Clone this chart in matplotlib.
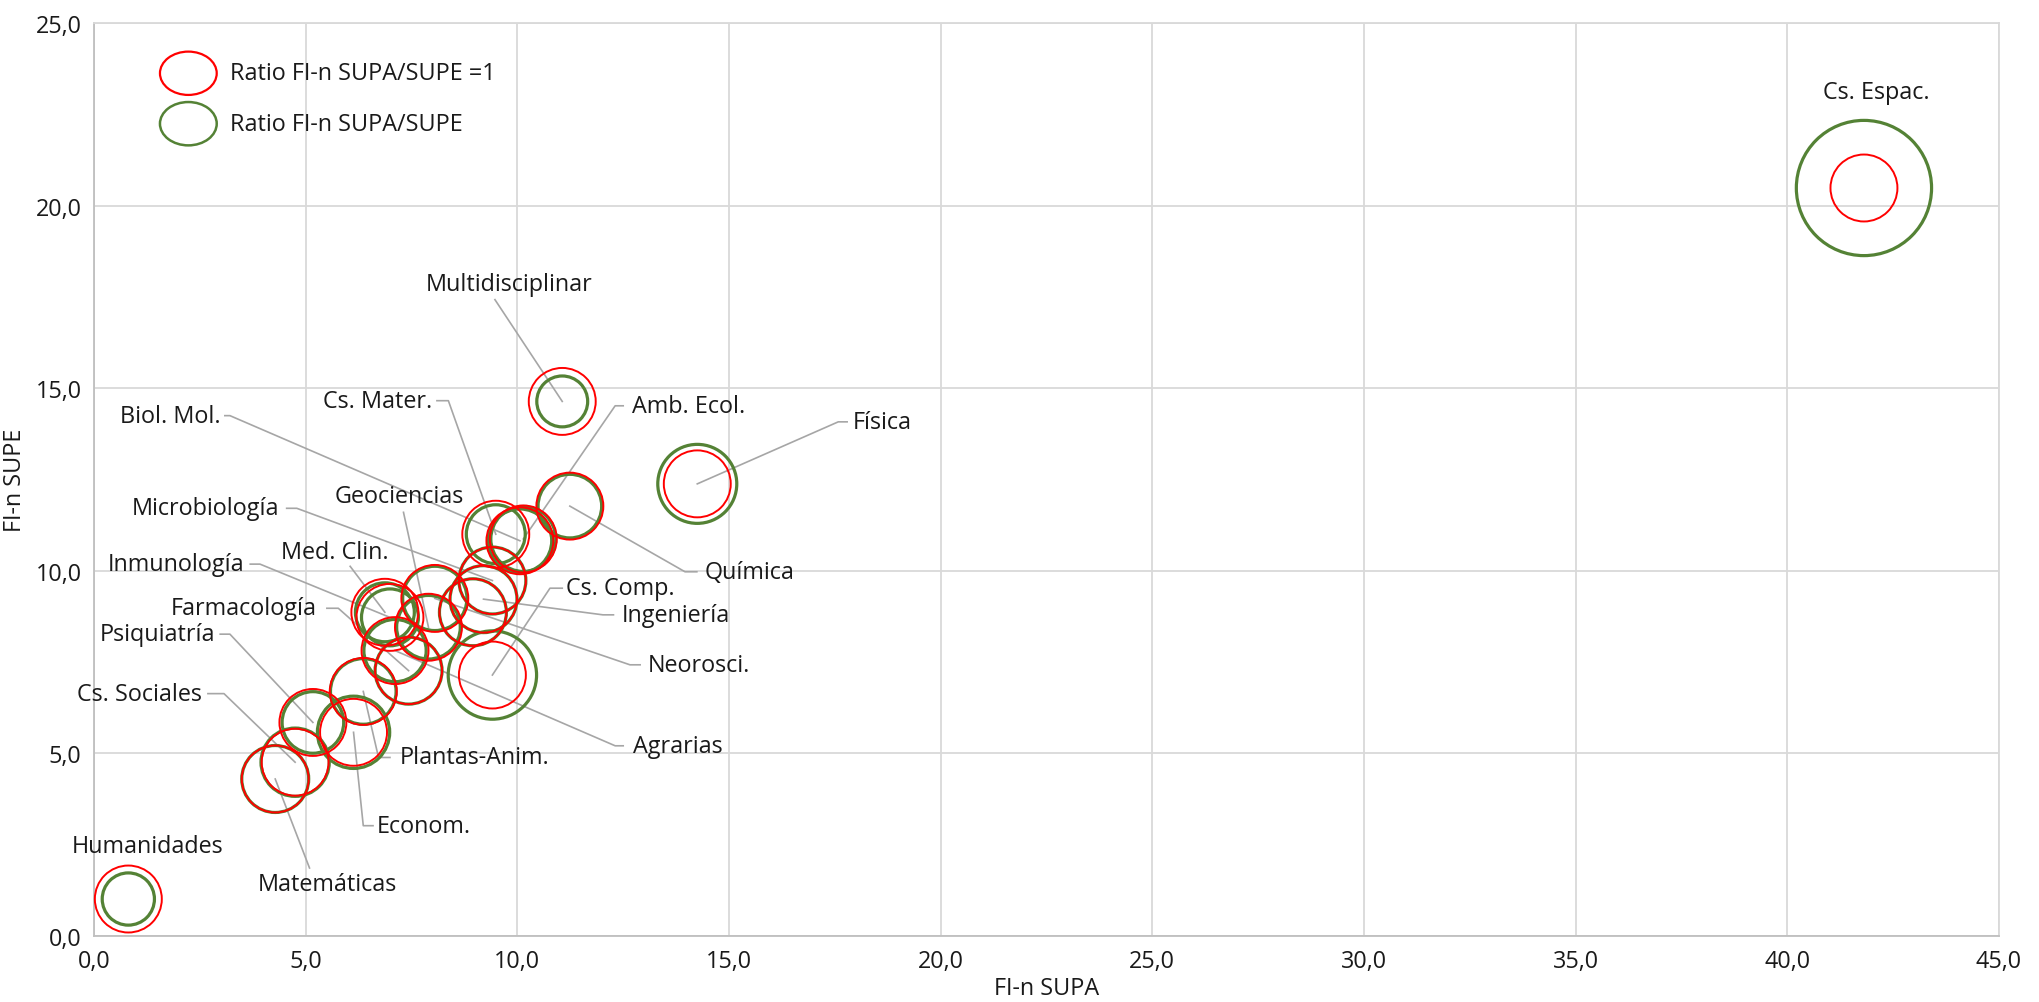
import matplotlib.pyplot as plt
from matplotlib.patches import Ellipse

plt.rcParams['font.family'] = ['Open Sans', 'DejaVu Sans']

categorias = ['Humanidades', 'Matemáticas', 'Cs. Sociales', 'Psiquiatría', 'Econom.',
              'Plantas-Anim.', 'Farmacología', 'Agrarias', 'Med. Clin.', 'Inmunología',
              'Geociencias', 'Neorosci.', '', 'Ingeniería', 'Microbiología', 'Cs. Comp.',
              'Cs. Mater.', 'Biol. Mol.', 'Amb. Ecol.', 'Química', 'Multidisciplinar',
              'Física', 'Cs. Espac.']
fi_supa = [0.81, 4.28, 4.75, 5.17, 6.13, 6.36, 7.43, 7.11, 6.87, 6.99, 7.90, 8.05, 8.95,
           9.20, 9.41, 9.41, 9.49, 10.06, 10.14, 11.24, 11.06, 14.25, 41.81]
fi_supe = [1.00, 4.29, 4.75, 5.84, 5.57, 6.69, 7.26, 7.81, 8.86, 8.72, 8.45, 9.24, 8.86,
           9.22, 9.73, 7.14, 11.00, 10.82, 10.87, 11.77, 14.64, 12.38, 20.49]
ratio = [0.78, 1.00, 1.02, 0.92, 1.08, 0.98, 1.00, 0.93, 0.88, 0.85, 0.95, 0.96, 1.00,
         1.00, 1.00, 1.32, 0.88, 0.95, 0.97, 0.95, 0.76, 1.18, 2.02]

xticks = [0, 5, 10, 15, 20, 25, 30, 35, 40, 45]
yticks = [0, 5, 10, 15, 20, 25]

# etiqueta: (x, y, alineacion, puntos de la linea guia antes de la burbuja)
etiquetas = {
    'Humanidades': (1.27, 2.45, 'center', None),
    'Matemáticas': (5.52, 1.42, 'center', [(5.09, 1.85)]),
    'Cs. Sociales': (2.54, 6.63, 'right', [(2.69, 6.63), (3.07, 6.63)]),
    'Psiquiatría': (2.86, 8.26, 'right', [(2.98, 8.26), (3.21, 8.26)]),
    'Econom.': (6.69, 3.01, 'left', [(6.59, 3.01), (6.36, 3.01)]),
    'Plantas-Anim.': (7.23, 4.88, 'left', [(6.99, 4.88), (6.72, 4.88)]),
    'Farmacología': (5.26, 8.97, 'right', [(5.50, 8.97), (5.77, 8.97)]),
    'Agrarias': (12.73, 5.20, 'left', [(12.50, 5.20), (12.31, 5.20)]),
    'Med. Clin.': (5.68, 10.52, 'center', [(6.05, 10.12)]),
    'Inmunología': (3.55, 10.18, 'right', [(3.69, 10.18), (3.92, 10.18)]),
    'Geociencias': (7.20, 12.06, 'center', [(7.31, 11.60)]),
    'Neorosci.': (13.09, 7.42, 'left', [(12.90, 7.42), (12.66, 7.42)]),
    'Ingeniería': (12.47, 8.79, 'left', [(12.27, 8.79), (12.02, 8.79)]),
    'Microbiología': (4.38, 11.71, 'right', [(4.55, 11.71), (4.79, 11.71)]),
    'Cs. Comp.': (11.15, 9.52, 'left', [(11.06, 9.52), (10.77, 9.52)]),
    'Cs. Mater.': (7.98, 14.66, 'right', [(8.10, 14.66), (8.37, 14.66)]),
    'Biol. Mol.': (2.98, 14.25, 'right', [(3.09, 14.25), (3.21, 14.25)]),
    'Amb. Ecol.': (12.70, 14.52, 'left', [(12.50, 14.52), (12.31, 14.52)]),
    'Química': (14.43, 9.97, 'left', [(14.24, 9.97), (13.96, 9.97)]),
    'Multidisciplinar': (9.80, 17.86, 'center', [(9.47, 17.43)]),
    'Física': (17.93, 14.08, 'left', [(17.79, 14.08), (17.58, 14.08)]),
    'Cs. Espac.': (42.11, 23.11, 'center', None),
}

rojo = '#FF0000'
verde = '#548235'
texto = '#1a1a1a'
fs = 16.8
d_base = 48.2  # diametro en puntos de la burbuja de ratio 1

fig = plt.figure(figsize=(20.4, 10.03), dpi=100)
ax = fig.add_axes([0.0461, 0.0663, 0.9338, 0.9093])

# lineas guia
for i, nombre in enumerate(categorias):
    if nombre in etiquetas and etiquetas[nombre][3]:
        pts = etiquetas[nombre][3] + [(fi_supa[i], fi_supe[i])]
        ax.plot([p[0] for p in pts], [p[1] for p in pts], color='#a6a6a6', lw=1.2, zorder=4)

ax.scatter(fi_supa, fi_supe, s=[(d_base * r) ** 2 for r in ratio], facecolors='none',
           edgecolors=verde, linewidths=2.3, zorder=5, clip_on=False)
ax.scatter(fi_supa, fi_supe, s=[d_base ** 2] * len(fi_supa), facecolors='none',
           edgecolors=rojo, linewidths=1.4, zorder=6, clip_on=False)

for nombre, (tx, ty, ha, _) in etiquetas.items():
    ax.text(tx, ty, nombre, ha=ha, va='center', fontsize=fs, color=texto, zorder=7)

ax.set_xlim(0, 45)
ax.set_ylim(0, 25)
ax.set_xticks(xticks)
ax.set_yticks(yticks)
ax.set_xticklabels([f'{v:.1f}'.replace('.', ',') for v in xticks])
ax.set_yticklabels([f'{v:.1f}'.replace('.', ',') for v in yticks])
ax.tick_params(length=0, labelsize=fs, colors=texto)
ax.tick_params(axis='x', pad=10)
ax.tick_params(axis='y', pad=9)
ax.grid(True, color='#d9d9d9', lw=1.3, zorder=0)
ax.set_axisbelow(True)
for lado in ['top', 'right']:
    ax.spines[lado].set_color('#d9d9d9')
    ax.spines[lado].set_linewidth(1.3)
for lado in ['left', 'bottom']:
    ax.spines[lado].set_color('#bfbfbf')
    ax.spines[lado].set_linewidth(1.3)

ax.set_xlabel('FI-n SUPA', fontsize=fs, color=texto, labelpad=2)
ax.set_ylabel('FI-n SUPE', fontsize=fs, color=texto, labelpad=6)

# leyenda
ax.add_patch(Ellipse((0.0495, 0.9454), 0.0298, 0.0475, transform=ax.transAxes,
                     fill=False, ec=rojo, lw=1.6, zorder=8))
ax.add_patch(Ellipse((0.0495, 0.8901), 0.0298, 0.0475, transform=ax.transAxes,
                     fill=False, ec=verde, lw=1.8, zorder=8))
ax.text(0.0714, 0.9454, 'Ratio FI-n SUPA/SUPE =1', transform=ax.transAxes,
        va='center', fontsize=fs, color=texto)
ax.text(0.0714, 0.8901, 'Ratio FI-n SUPA/SUPE', transform=ax.transAxes,
        va='center', fontsize=fs, color=texto)

fig.savefig('out.png', dpi=100)
